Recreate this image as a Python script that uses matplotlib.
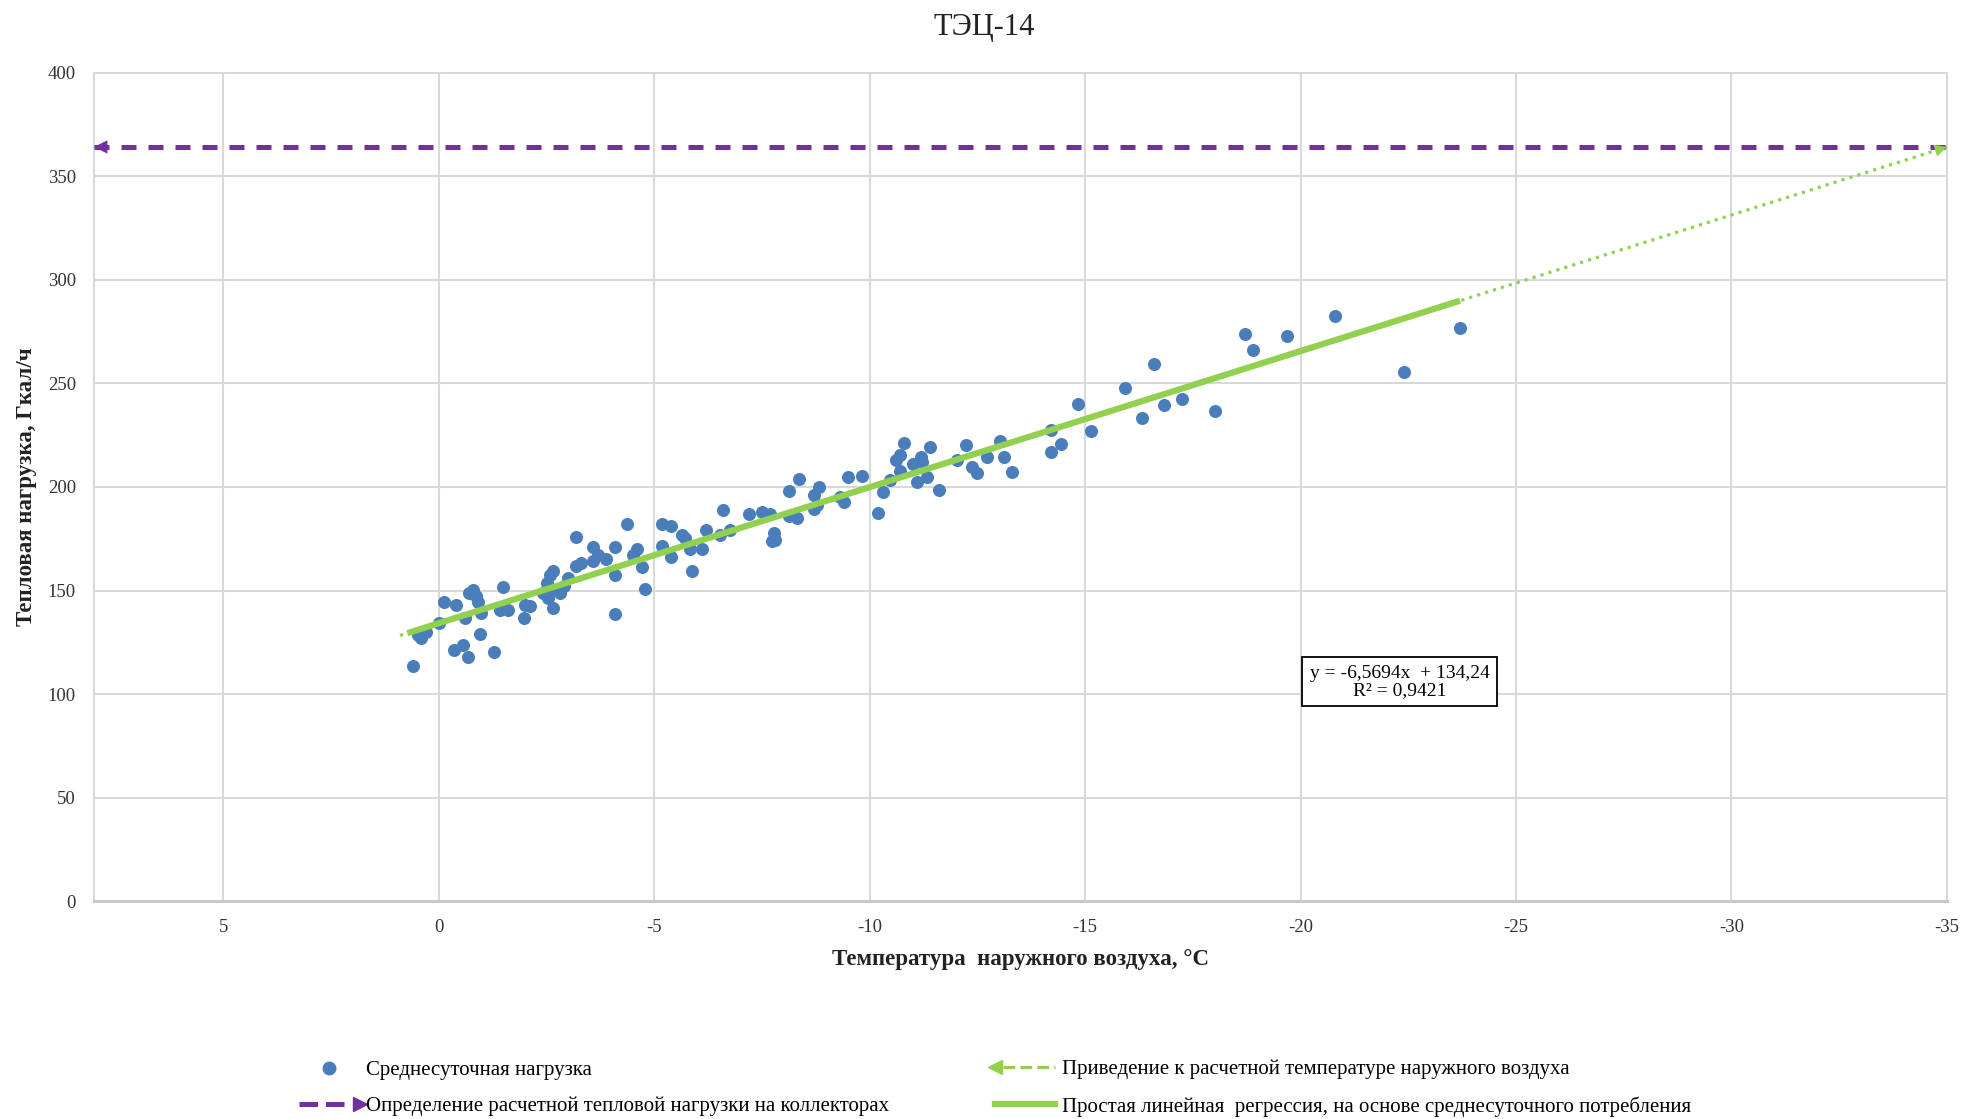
import matplotlib
matplotlib.use("Agg")
import matplotlib.pyplot as plt
from matplotlib.lines import Line2D
from matplotlib.legend_handler import HandlerBase

plt.rcParams["font.family"] = ["Liberation Serif", "DejaVu Serif"]
plt.rcParams["axes.unicode_minus"] = False

# среднесуточные данные: температура наружного воздуха, нагрузка
t_vals = [0.61, 0.49, 0.42, 0.30, -0.01, -0.12, -0.39, -0.36, -0.57, -0.67,
          -0.60, -0.71, -0.79, -0.87, -0.91, -0.98, -0.96, -1.27, -1.49, -1.41,
          -1.60, -1.97, -1.99, -2.11, -2.42, -2.50, -2.59, -2.65, -2.53, -2.65,
          -2.81, -3.00, -3.19, -3.19, -3.31, -3.57, -3.58, -3.70, -3.89, -4.09,
          -4.09, -4.09, -4.37, -4.51, -4.59, -4.71, -4.78, -5.17, -5.40, -5.17,
          -5.40, -5.64, -5.71, -5.83, -5.87, -6.10, -6.20, -6.53, -6.59, -6.76,
          -7.19, -7.50, -7.69, -7.77, -7.73, -7.81, -8.12, -8.35, -8.12, -8.31,
          -2.70, -2.90,
          -8.70, -8.82, -8.70, -8.77, -9.32, -9.40, -9.50, -9.81, -10.19, -10.31,
          -10.48, -10.60, -10.70, -10.79, -10.71, -11.01, -11.10, -11.18, -11.22, -11.34,
          -11.41, -11.61, -12.02, -12.23, -12.38, -12.50, -12.72, -13.02, -13.12, -13.30,
          -14.21, -14.43, -14.21, -14.83, -15.13, -15.92, -16.33, -16.84, -17.24,
          -16.60, -18.02, -18.71, -18.89, -19.69, -20.79, -22.39, -23.70]
q_vals = [113.6, 128.5, 126.9, 130.1, 134.5, 144.6, 143.2, 121.2, 123.8, 117.8,
          136.8, 148.9, 150.2, 147.3, 144.4, 139.2, 128.8, 120.3, 151.6, 140.8,
          140.5, 136.7, 143.2, 142.4, 148.9, 153.7, 157.7, 159.3, 146.5, 141.6,
          148.9, 156.1, 175.9, 161.7, 163.3, 171.1, 164.1, 167.4, 165.0, 171.1,
          157.7, 138.9, 182.3, 167.4, 169.9, 161.4, 150.8, 182.3, 181.3, 171.7,
          166.2, 177.0, 175.4, 170.1, 159.2, 170.1, 179.1, 177.0, 188.7, 179.4,
          187.1, 187.8, 187.1, 177.8, 173.8, 174.6, 197.9, 203.9, 185.9, 185.0,
          150.5, 152.0,
          196.1, 200.2, 189.2, 191.3, 195.0, 192.9, 204.7, 205.5, 187.3, 197.7,
          203.4, 213.0, 215.4, 221.1, 207.9, 211.1, 202.6, 214.6, 212.2, 205.0,
          219.1, 198.6, 213.0, 220.3, 209.8, 206.9, 214.6, 222.3, 214.3, 207.4,
          227.5, 220.7, 217.0, 240.0, 227.2, 247.6, 233.1, 239.5, 242.3,
          259.3, 236.9, 274.0, 266.3, 272.8, 282.5, 255.6, 276.9]

# линейная регрессия
slope = -6.5694
intercept = 134.24
r2 = 0.9421
t_trend = [0.73, -23.7]      # участок по данным
t_proj = [0.9, -35]          # приведение к расчетной температуре
t_design = -35
t_left = 8

blue = "#4A7EBB"
green = "#92D050"
purple = "#7030A0"


def reg(t):
    return slope * t + intercept


q_design = reg(t_design)

fig = plt.figure(figsize=(19.68, 11.19), dpi=100)
ax = fig.add_axes([0.0478, 0.1946, 0.9415, 0.7404])

ax.scatter(t_vals, q_vals, s=88, color=blue, zorder=3, linewidths=0)

# пунктир приведения к расчетной температуре
ax.plot(t_proj, [reg(t) for t in t_proj], color=green, lw=2.3,
        linestyle=(0, (1, 1.6)), zorder=4)
ax.annotate("", xy=(t_design, q_design),
            xytext=(t_design + 0.6, reg(t_design + 0.6)),
            arrowprops=dict(arrowstyle="-|>", color=green, lw=0,
                            mutation_scale=22, shrinkA=0, shrinkB=0),
            zorder=5, annotation_clip=False)

# сплошная линия регрессии
ax.plot(t_trend, [reg(t) for t in t_trend], color=green, lw=4.5,
        solid_capstyle="butt", zorder=5)

# расчетная тепловая нагрузка
ax.plot([t_left, t_design], [q_design, q_design], color=purple, lw=3.6,
        dashes=(3, 2.4), zorder=4)
ax.annotate("", xy=(t_left, q_design), xytext=(t_left - 0.6, q_design),
            arrowprops=dict(arrowstyle="-|>", color=purple, lw=0,
                            mutation_scale=24, shrinkA=0, shrinkB=0),
            zorder=6, annotation_clip=False)

ax.text(-22.3, 106, "y = -6,5694x  + 134,24\nR² = 0,9421", ha="center",
        va="center", fontsize=14, linespacing=1.0, zorder=7,
        bbox=dict(boxstyle="square,pad=0.4", fc="white", ec="black", lw=1.3))

ax.set_xlim(t_left, -35)
ax.set_ylim(0, 400)
ax.set_xticks(range(5, -36, -5))
ax.set_yticks(range(0, 401, 50))
ax.tick_params(length=0, labelsize=13.5, colors="#333333")
ax.tick_params(axis="x", pad=13)
ax.tick_params(axis="y", pad=13)
ax.grid(True, color="#D9D9D9", lw=1.5)
ax.set_axisbelow(True)
for s in ax.spines.values():
    s.set_color("#D9D9D9")
    s.set_linewidth(1.5)
ax.spines["bottom"].set_color("#C8C8C8")
ax.spines["bottom"].set_linewidth(2.2)

ax.set_xlabel("Температура  наружного воздуха, °С", fontsize=16.5,
              fontweight="bold", labelpad=9, color="#222222")
ax.set_ylabel("Тепловая нагрузка, Гкал/ч", fontsize=16.5, fontweight="bold",
              labelpad=8, color="#222222")
fig.text(0.5, 0.975, "ТЭЦ-14", ha="center", va="center", fontsize=22,
         color="#222222")


class ArrowLineHandler(HandlerBase):
    def __init__(self, marker, at_end):
        super().__init__()
        self.marker = marker
        self.at_end = at_end

    def create_artists(self, legend, orig, xdescent, ydescent, width, height,
                       fontsize, trans):
        y = height / 2 - ydescent
        x0, x1 = -xdescent, width - xdescent
        xm = x1 if self.at_end else x0
        pad = 6 if self.at_end else -6
        line = Line2D([x0, x1 - pad] if self.at_end else [x0 - pad, x1],
                      [y, y], color=orig.get_color(),
                      lw=orig.get_linewidth(), linestyle=orig.get_linestyle())
        mk = Line2D([xm], [y], marker=self.marker, ms=10,
                    color=orig.get_color(), linestyle="none")
        line.set_transform(trans)
        mk.set_transform(trans)
        return [line, mk]


h_scatter = Line2D([], [], marker="o", color=blue, ms=9, linestyle="none")
h_purple = Line2D([], [], color=purple, lw=3.6, linestyle=(0, (2.5, 2.5)))
h_dot = Line2D([], [], color=green, lw=2.3, linestyle=(0, (1, 1.4)))
h_solid = Line2D([], [], color=green, lw=4.5)

leg_kw = dict(frameon=False, fontsize=15, handlelength=2.9,
              handletextpad=0.3, borderpad=0, borderaxespad=0,
              labelspacing=0.8, loc="center left")
fig.legend([h_scatter, h_purple],
           ["Среднесуточная нагрузка",
            "Определение расчетной тепловой нагрузки на коллекторах"],
           bbox_to_anchor=(0.152, 0.0275),
           handler_map={h_purple: ArrowLineHandler(">", True)}, **leg_kw)
fig.legend([h_dot, h_solid],
           ["Приведение к расчетной температуре наружного воздуха",
            "Простая линейная  регрессия, на основе среднесуточного потребления"],
           bbox_to_anchor=(0.5056, 0.0275),
           handler_map={h_dot: ArrowLineHandler("<", False)}, **leg_kw)

fig.savefig("out.png", dpi=100)
